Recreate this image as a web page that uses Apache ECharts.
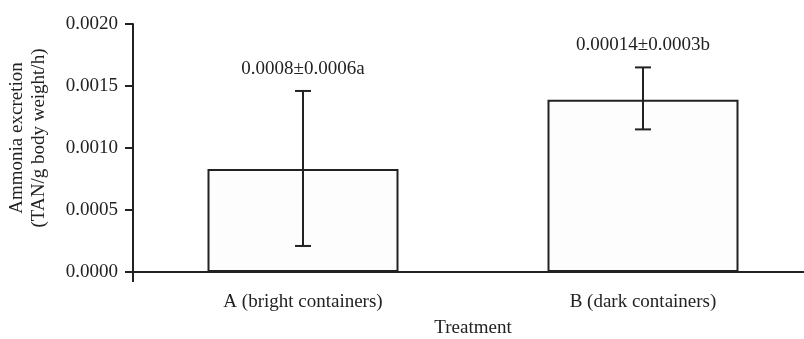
<!DOCTYPE html>
<html>
<head>
<meta charset="utf-8">
<script src="https://cdn.jsdelivr.net/npm/echarts@6/dist/echarts.min.js"></script>
<style>
  html, body { margin: 0; padding: 0; background: #fff; }
  #chart { width: 804px; height: 339px; }
</style>
</head>
<body>
<div id="chart"></div>
<script>
// Treatment groups and measured ammonia excretion (TAN/g body weight/h)
const categories = ['A (bright containers)', 'B (dark containers)'];
const means = [0.00083, 0.00139];
const errLow = [0.00021, 0.00115];
const errHigh = [0.00146, 0.00165];
const barLabels = ['0.0008±0.0006a', '0.00014±0.0003b'];

const FONT = "'Liberation Serif', 'Times New Roman', serif";
const INK = '#222';

const chart = echarts.init(document.getElementById('chart'), null, { renderer: 'canvas' });

const errorData = categories.map((c, i) => [i, errLow[i], errHigh[i]]);

chart.setOption({
  animation: false,
  backgroundColor: '#fff',
  grid: { left: 133, top: 24, height: 248, width: 680, containLabel: false, outerBoundsMode: 'none' },
  xAxis: {
    type: 'category',
    data: categories,
    name: 'Treatment',
    nameLocation: 'middle',
    nameGap: 47,
    nameTextStyle: { fontFamily: FONT, fontSize: 19, color: INK },
    axisLine: { lineStyle: { color: INK, width: 2 } },
    axisTick: { show: true, length: 10, interval: (i) => i === 0, lineStyle: { color: INK, width: 2 } },
    axisLabel: { fontFamily: FONT, fontSize: 19, color: INK, margin: 21 },
    splitLine: { show: false }
  },
  yAxis: {
    type: 'value',
    min: 0,
    max: 0.002,
    interval: 0.0005,
    name: 'Ammonia excretion\n(TAN/g body weight/h)',
    nameLocation: 'middle',
    nameRotate: 90,
    nameGap: 83,
    nameTextStyle: { fontFamily: FONT, fontSize: 19, color: INK, lineHeight: 22, align: 'center', padding: [0, 0, 0, 20] },
    axisLine: { show: true, lineStyle: { color: INK, width: 2 } },
    axisTick: { show: true, length: 8, lineStyle: { color: INK, width: 2 } },
    axisLabel: { fontFamily: FONT, fontSize: 19, color: INK, margin: 15, formatter: (v) => v.toFixed(4) },
    splitLine: { show: false }
  },
  series: [
    {
      type: 'bar',
      data: means,
      barWidth: 191,
      itemStyle: { color: '#fdfdfd', borderColor: INK, borderWidth: 2 }
    },
    {
      type: 'custom',
      data: errorData,
      z: 5,
      renderItem: function (params, api) {
        const x = api.value(0);
        const pLo = api.coord([x, api.value(1)]);
        const pHi = api.coord([x, api.value(2)]);
        const half = 8;
        const line = { stroke: INK, lineWidth: 2 };
        return {
          type: 'group',
          children: [
            { type: 'line', shape: { x1: pLo[0], y1: pLo[1], x2: pHi[0], y2: pHi[1] }, style: line },
            { type: 'line', shape: { x1: pLo[0] - half, y1: pLo[1], x2: pLo[0] + half, y2: pLo[1] }, style: line },
            { type: 'line', shape: { x1: pHi[0] - half, y1: pHi[1], x2: pHi[0] + half, y2: pHi[1] }, style: line },
            {
              type: 'text',
              x: pHi[0],
              y: pHi[1] - 22,
              style: {
                text: barLabels[params.dataIndex],
                fontFamily: FONT,
                fontSize: 19,
                fill: INK,
                align: 'center',
                verticalAlign: 'middle'
              }
            }
          ]
        };
      }
    }
  ]
});
</script>
</body>
</html>
